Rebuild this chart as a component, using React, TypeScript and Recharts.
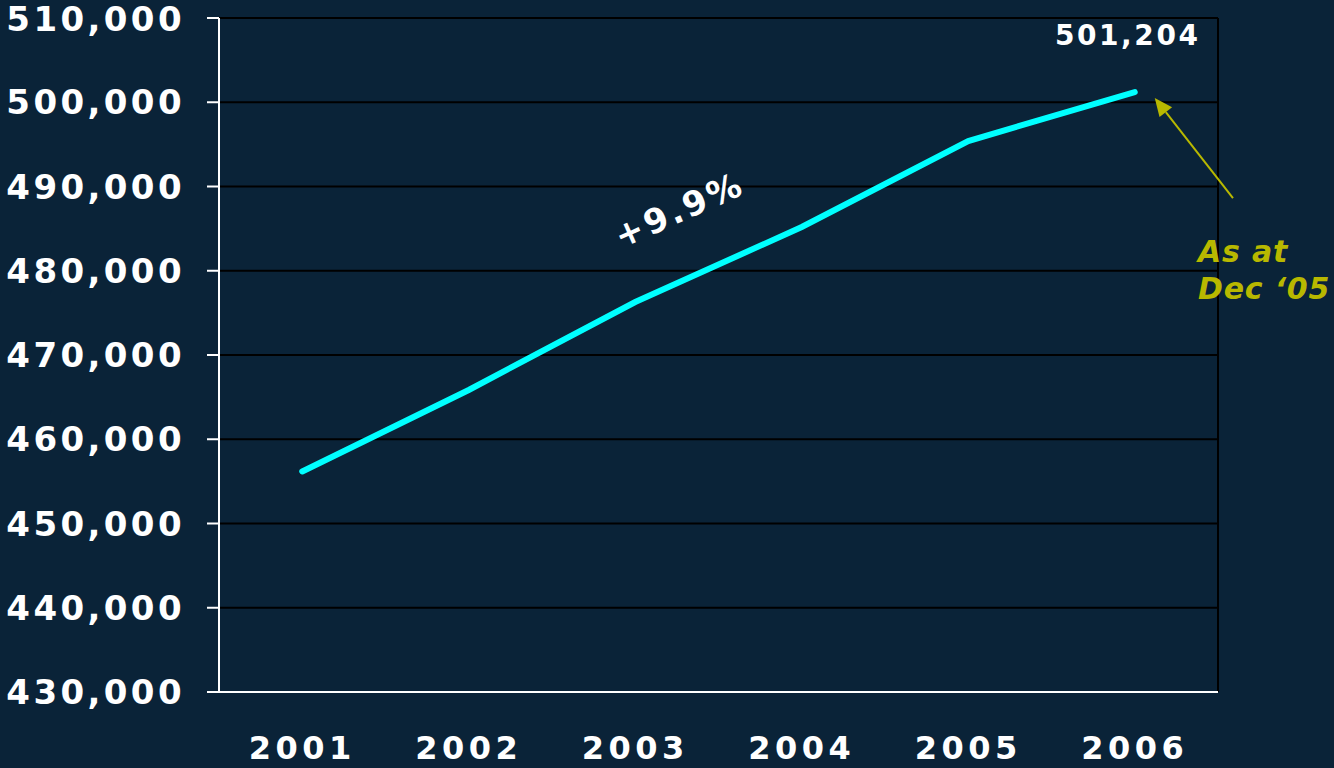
import React from "react";
import {
  LineChart,
  Line,
  XAxis,
  YAxis,
  CartesianGrid,
  ReferenceLine,
  ReferenceDot,
} from "recharts";

const years = ["2001", "2002", "2003", "2004", "2005", "2006"];
const members = [456180, 465850, 476290, 485190, 495400, 501204];
const yTicks = [430000, 440000, 450000, 460000, 470000, 480000, 490000, 500000, 510000];
const edgeTicks = [0, 1, 2, 3, 4, 5, 6];
const centerTicks = [0.5, 1.5, 2.5, 3.5, 4.5, 5.5];

const BG = "#0a2338";
const OLIVE = "#b8b800";
const FONT = "'DejaVu Sans', Verdana, sans-serif";

const data = years.map((year, i) => ({ x: i + 0.5, year, value: members[i] }));

const fmt = (v: number) => v.toLocaleString("en-US");

const LastLabel = (props: any) => {
  const { x, y, index, value } = props;
  if (index !== data.length - 1) return null;
  return (
    <text
      x={x - 7}
      y={y - 47}
      textAnchor="middle"
      fill="#fff"
      fontFamily={FONT}
      fontWeight="bold"
      fontSize={28}
      letterSpacing={2.6}
    >
      {fmt(value)}
    </text>
  );
};

const GrowthNote = (p: any) => (
  <text
    x={p.cx}
    y={p.cy}
    transform={`rotate(-24, ${p.cx}, ${p.cy})`}
    textAnchor="middle"
    dominantBaseline="middle"
    fill="#fff"
    fontFamily={FONT}
    fontWeight="bold"
    fontSize={34}
    letterSpacing={3}
  >
    +9.9%
  </text>
);

const Arrow = (p: any) => {
  const { x1, y1, x2, y2 } = p;
  const ang = Math.atan2(y1 - y2, x1 - x2);
  const len = 18;
  const half = 8;
  const bx = x1 - len * Math.cos(ang);
  const by = y1 - len * Math.sin(ang);
  const nx = -Math.sin(ang) * half;
  const ny = Math.cos(ang) * half;
  return (
    <g>
      <line x1={bx} y1={by} x2={x2} y2={y2} stroke={OLIVE} strokeWidth={2} />
      <polygon
        points={`${x1},${y1} ${bx + nx},${by + ny} ${bx - nx},${by - ny}`}
        fill={OLIVE}
      />
      <text
        x={x2 - 35}
        y={y2 + 64}
        fill={OLIVE}
        fontFamily={FONT}
        fontWeight="bold"
        fontStyle="italic"
        fontSize={30}
        letterSpacing={0.8}
      >
        <tspan x={x2 - 35}>As at</tspan>
        <tspan x={x2 - 35} dy={37}>Dec ‘05</tspan>
      </text>
    </g>
  );
};

const App = () => {
  return (
    <div
      style={{
        position: "absolute",
        left: 0,
        top: 0,
        width: 1334,
        height: 768,
        background: BG,
        overflow: "hidden",
      }}
    >
      <LineChart
        width={1334}
        height={768}
        data={data}
        margin={{ top: 18, right: 116, bottom: 0, left: 0 }}
      >
        <CartesianGrid vertical={false} stroke="#000" strokeWidth={2} />
        <XAxis
          xAxisId="edge"
          type="number"
          dataKey="x"
          domain={[0, 6]}
          ticks={edgeTicks}
          tickFormatter={() => ""}
          axisLine={false}
          tickLine={{ stroke: "#fff", strokeWidth: 2 }}
          tickSize={11}
          height={0}
        />
        <XAxis
          type="number"
          dataKey="x"
          domain={[0, 6]}
          ticks={centerTicks}
          tickFormatter={(v: number) => years[Math.floor(v)]}
          axisLine={{ stroke: "#fff", strokeWidth: 2 }}
          tickLine={false}
          tickSize={0}
          tickMargin={44}
          height={76}
          tick={{ fill: "#fff", fontFamily: FONT, fontWeight: "bold", fontSize: 32, letterSpacing: 4.5 }}
        />
        <YAxis
          domain={[430000, 510000]}
          ticks={yTicks}
          tickFormatter={fmt}
          width={219}
          axisLine={{ stroke: "#fff", strokeWidth: 2 }}
          tickLine={{ stroke: "#fff", strokeWidth: 2 }}
          tickSize={12}
          tickMargin={22}
          tick={{ fill: "#fff", fontFamily: FONT, fontWeight: "bold", fontSize: 34, letterSpacing: 3.4 }}
        />
        <ReferenceLine x={6} stroke="#000" strokeWidth={2} />
        <Line
          dataKey="value"
          stroke="#00ffff"
          strokeWidth={6}
          strokeLinecap="round"
          dot={false}
          isAnimationActive={false}
          label={<LastLabel />}
        />
        <ReferenceDot x={2.77} y={486970} r={0} shape={GrowthNote} ifOverflow="visible" />
        <ReferenceLine
          segment={[
            { x: 5.62, y: 500505 },
            { x: 6.09, y: 488630 },
          ]}
          ifOverflow="visible"
          shape={Arrow}
        />
      </LineChart>
    </div>
  );
};

export default App;
